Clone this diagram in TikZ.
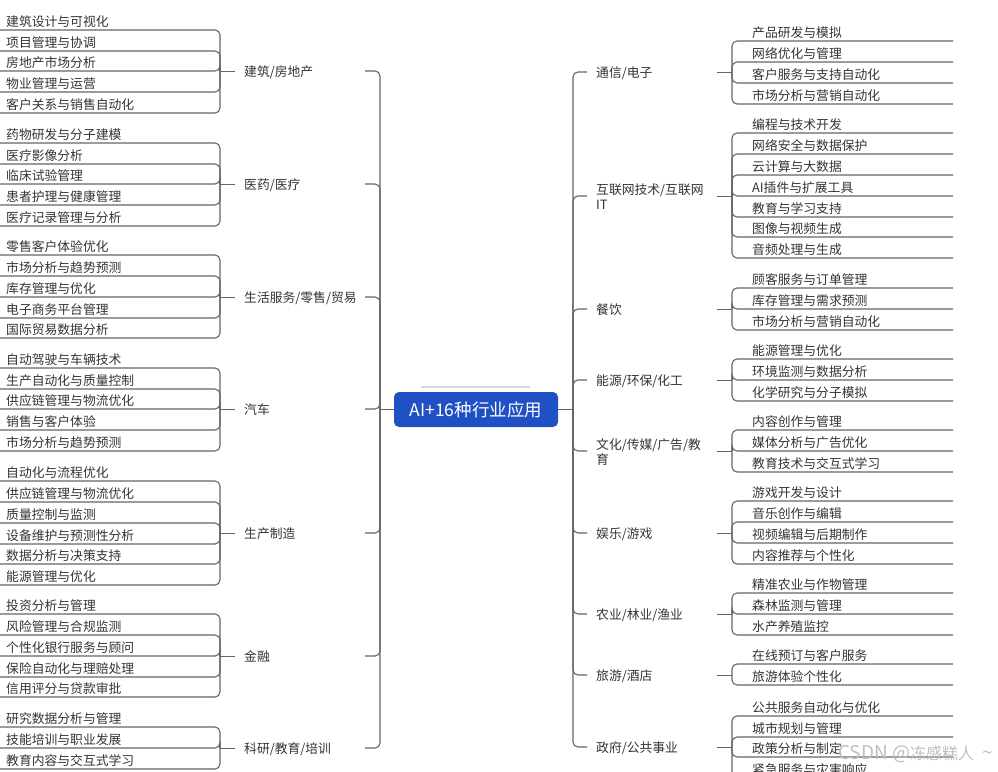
\documentclass[tikz,border=0pt]{standalone}
\usepackage{fontspec}
\setmainfont{Noto Sans CJK SC}
\usepackage{xcolor}
\usetikzlibrary{positioning,calc}
\definecolor{linegray}{HTML}{666666}
\definecolor{textgray}{HTML}{333333}
\definecolor{rootblue}{HTML}{1F50C4}
\tikzset{
    link/.style={draw=linegray, line width=1.1pt},
    stub/.style={draw=linegray, line width=0.8pt},
    fork/.style={link, rounded corners=5pt},
    leaftext/.style={anchor=west, inner sep=0pt, text=textgray, font=\fontsize{12.8}{15}\selectfont},
    branch/.style={anchor=west, inner xsep=10pt, inner ysep=0pt, text width=111pt, align=left, text=textgray, font=\fontsize{12.8}{15}\selectfont},
    rootbox/.style={fill=rootblue, rounded corners=5pt, minimum width=164pt, minimum height=35pt, inner sep=0pt, text=white, font=\fontsize{17.5}{20}\selectfont}
}
\newcommand{\leftgroup}[4]{
    \node [branch] (#1) at (234,#3+1) {#2};
    \coordinate (#1hub) at (220,#3);
    \coordinate (#1in) at (235,#3);
    \coordinate (#1out) at (365,#3);
    \draw [stub] (#1in) -- (#1hub);
    \draw [fork] (#1out) -| (mainL);
    \foreach \ly/\txt [count=\i] in {#4} {
        \node [leaftext] (#1leaf\i) at (6,\ly-8) {\txt};
        \coordinate (#1end\i) at (0,\ly);
        \draw [fork] (#1end\i) -| (#1hub);
    }
}
\newcommand{\rightgroup}[4]{
    \node [branch] (#1) at (586,#3+1) {#2};
    \coordinate (#1hub) at (732,#3);
    \coordinate (#1in) at (717,#3);
    \coordinate (#1out) at (587,#3);
    \draw [stub] (#1in) -- (#1hub);
    \draw [fork] (#1out) -| (mainR);
    \foreach \ly/\txt [count=\i] in {#4} {
        \node [leaftext] (#1leaf\i) at (752,\ly-8) {\txt};
        \coordinate (#1end\i) at (953,\ly);
        \draw [fork] (#1end\i) -| (#1hub);
    }
}
\begin{document}
\begin{tikzpicture}[x=1pt, y=-1pt]
    \useasboundingbox (0,0) rectangle (998,771);

    \node [rootbox] (root) at (476,409.5) {AI+16种行业应用};
    \coordinate (mainL) at (380,409);
    \coordinate (mainR) at (573,409);
    \draw [stub] (mainL) -- (mainL -| root.west);
    \draw [stub] (mainR -| root.east) -- (mainR);
    \coordinate (barL) at (421,387);
    \coordinate (barR) at (530,387);
    \draw [line width=1.6pt, draw=black!15] (barL) -- (barR);

    \leftgroup{build}{建筑/房地产}{71}{30/建筑设计与可视化, 51/项目管理与协调, 71/房地产市场分析, 92/物业管理与运营, 113/客户关系与销售自动化}
    \leftgroup{med}{医药/医疗}{184}{143/药物研发与分子建模, 164/医疗影像分析, 184/临床试验管理, 205/患者护理与健康管理, 226/医疗记录管理与分析}
    \leftgroup{retail}{生活服务/零售/贸易}{297}{255/零售客户体验优化, 276/市场分析与趋势预测, 297/库存管理与优化, 318/电子商务平台管理, 338/国际贸易数据分析}
    \leftgroup{auto}{汽车}{409}{368/自动驾驶与车辆技术, 389/生产自动化与质量控制, 409/供应链管理与物流优化, 430/销售与客户体验, 451/市场分析与趋势预测}
    \leftgroup{make}{生产制造}{533}{481/自动化与流程优化, 502/供应链管理与物流优化, 523/质量控制与监测, 544/设备维护与预测性分析, 564/数据分析与决策支持, 585/能源管理与优化}
    \leftgroup{fin}{金融}{656}{614/投资分析与管理, 635/风险管理与合规监测, 656/个性化银行服务与顾问, 677/保险自动化与理赔处理, 697/信用评分与贷款审批}
    \leftgroup{edu}{科研/教育/培训}{748}{727/研究数据分析与管理, 748/技能培训与职业发展, 769/教育内容与交互式学习}

    \rightgroup{tele}{通信/电子}{72}{41/产品研发与模拟, 62/网络优化与管理, 83/客户服务与支持自动化, 104/市场分析与营销自动化}
    \rightgroup{net}{互联网技术/互联网\\IT}{196}{133/编程与技术开发, 154/网络安全与数据保护, 175/云计算与大数据, 196/AI插件与扩展工具, 217/教育与学习支持, 237/图像与视频生成, 258/音频处理与生成}
    \rightgroup{food}{餐饮}{309}{288/顾客服务与订单管理, 309/库存管理与需求预测, 330/市场分析与营销自动化}
    \rightgroup{energy}{能源/环保/化工}{380}{359/能源管理与优化, 380/环境监测与数据分析, 401/化学研究与分子模拟}
    \rightgroup{media}{文化/传媒/广告/教\\育}{451}{430/内容创作与管理, 451/媒体分析与广告优化, 472/教育技术与交互式学习}
    \rightgroup{game}{娱乐/游戏}{533}{501/游戏开发与设计, 522/音乐创作与编辑, 543/视频编辑与后期制作, 564/内容推荐与个性化}
    \rightgroup{farm}{农业/林业/渔业}{614}{593/精准农业与作物管理, 614/森林监测与管理, 635/水产养殖监控}
    \rightgroup{travel}{旅游/酒店}{675}{664/在线预订与客户服务, 685/旅游体验个性化}
    \rightgroup{gov}{政府/公共事业}{747}{716/公共服务自动化与优化, 737/城市规划与管理, 757/政策分析与制定, 778/紧急服务与灾害响应}

    \node [anchor=west, inner sep=0pt, text=black!25, font=\fontsize{16}{18}\selectfont] (mark) at (838,754) {{\fontsize{19}{18}\selectfont CSDN @}冻感糕人\hspace{8pt}{\fontsize{19}{18}\selectfont\textasciitilde}};
\end{tikzpicture}
\end{document}
